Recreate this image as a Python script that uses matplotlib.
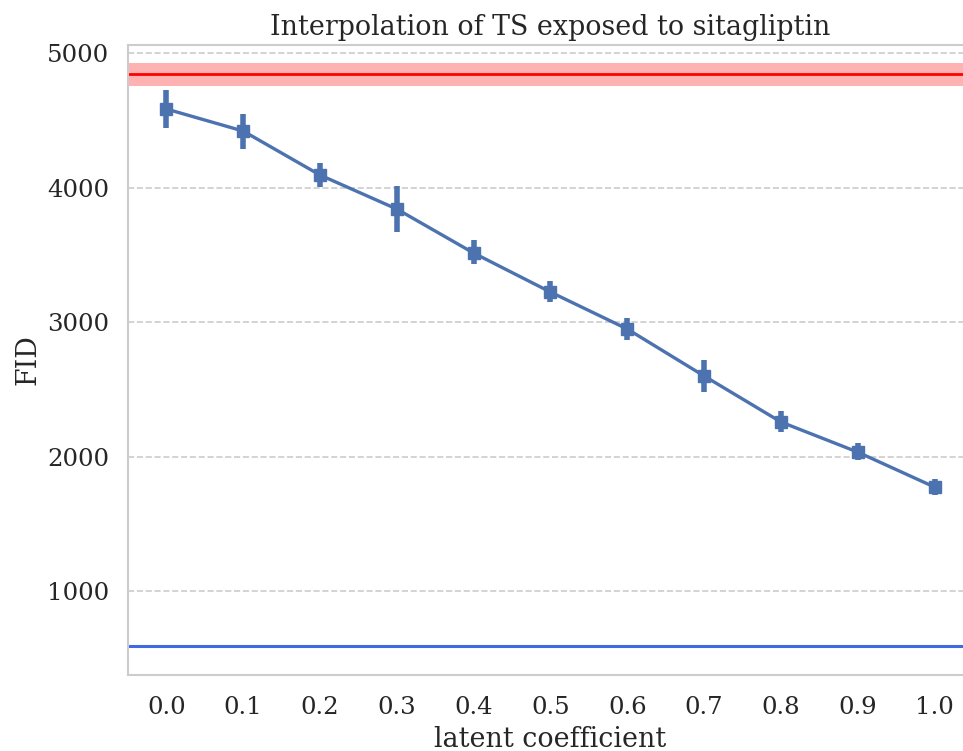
import matplotlib
matplotlib.use("Agg")
import matplotlib.pyplot as plt
import numpy as np

categories = ["0.0", "0.1", "0.2", "0.3", "0.4", "0.5", "0.6", "0.7", "0.8", "0.9", "1.0"]
fid_mean = [4584, 4420, 4093, 3840, 3513, 3223, 2948, 2599, 2257, 2033, 1773]
fid_low = [4443, 4286, 4004, 3669, 3431, 3149, 2866, 2480, 2182, 1974, 1714]
fid_high = [4725, 4547, 4182, 4011, 3610, 3305, 3030, 2718, 2338, 2100, 1833]
ref_red = 4844
ref_red_low = 4755
ref_red_high = 4926
ref_blue = 591

plt.rcParams['font.family'] = ['DejaVu Serif']
fig = plt.figure(figsize=(9.63, 7.51), dpi=100)
ax = fig.add_axes([0.1329, 0.1012, 0.8775, 0.8389])

x = np.arange(len(categories))
mean = np.array(fid_mean)
yerr = [mean - np.array(fid_low), np.array(fid_high) - mean]

ax.axhspan(ref_red_low, ref_red_high, color="red", alpha=0.3, lw=0)
ax.axhline(ref_red, color="red", lw=2)
ax.axhline(ref_blue, color="royalblue", lw=2.2)

ax.errorbar(x, mean, yerr=yerr, color="#4c72b0", lw=2.4, marker="s", ms=8,
            elinewidth=4.0, capsize=0, zorder=3)

ax.set_xlim(-0.5, len(categories) - 0.5)
ax.set_ylim(376, 5060)
ax.set_xticks(x)
ax.set_xticklabels(categories)
ax.set_yticks([1000, 2000, 3000, 4000, 5000])
ax.yaxis.grid(True, linestyle="--", color="#cccccc", lw=1.2)
ax.set_axisbelow(True)
for s in ax.spines.values():
    s.set_color("#cccccc")
    s.set_linewidth(1.5)
ax.tick_params(axis="both", length=0, labelsize=17.6, colors="#262626")
ax.tick_params(axis="x", pad=15)
ax.tick_params(axis="y", pad=13.5)
ax.set_xlabel("latent coefficient", fontsize=19.4, color="#262626", labelpad=5)
ax.set_ylabel("FID", fontsize=19.4, color="#262626", labelpad=4)
ax.set_title("Interpolation of TS exposed to sitagliptin", fontsize=19.4, color="#262626", pad=7)

fig.savefig("out.png", dpi=100)
